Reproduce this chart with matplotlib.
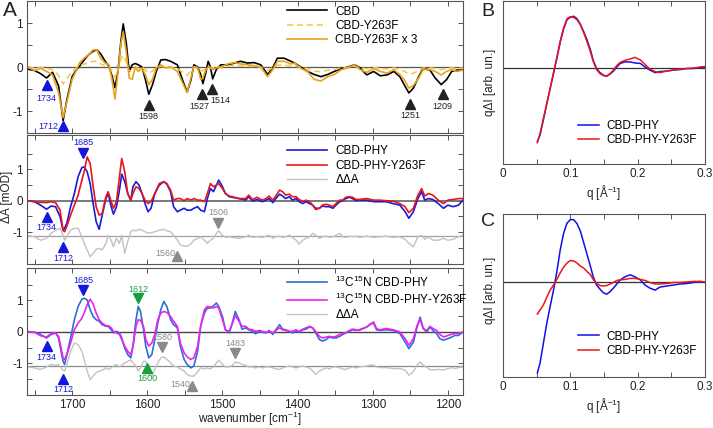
import numpy as np
import matplotlib
matplotlib.use('Agg')
import matplotlib.pyplot as plt
from matplotlib.ticker import MultipleLocator, FixedLocator

plt.rcParams['font.family'] = ['Liberation Sans', 'DejaVu Sans']
plt.rcParams['mathtext.default'] = 'regular'
plt.rcParams['axes.unicode_minus'] = False

# ---- panel A, top: CBD difference spectra ----
wn_top = [1759, 1750, 1742, 1734, 1726, 1718, 1712, 1707, 1700, 1695,
          1690, 1684, 1678, 1672, 1667, 1662, 1656, 1651, 1647, 1643,
          1639, 1635, 1632, 1628, 1624, 1620, 1616, 1612, 1607, 1602,
          1598, 1593, 1588, 1582, 1576, 1569, 1560, 1553, 1547, 1542,
          1538, 1533, 1529, 1526, 1522, 1519, 1516, 1513, 1508, 1502,
          1493, 1484, 1476, 1467, 1458, 1449, 1440, 1433, 1427, 1418,
          1409, 1404, 1396, 1387, 1378, 1369, 1360, 1351, 1342, 1333,
          1324, 1317, 1308, 1299, 1290, 1281, 1272, 1264, 1257, 1252,
          1246, 1239, 1233, 1224, 1217, 1209, 1202, 1195, 1188, 1180]
cbd = [-0.05, -0.08, -0.15, -0.25, -0.12, -0.43, -1.22, -0.75, -0.22, -0.08,
       0.02, 0.16, 0.28, 0.36, 0.39, 0.30, 0.13, 0.02, -0.20, -0.47,
       -0.10, 0.60, 0.98, 0.55, -0.10, 0.05, 0.08, 0.05, 0.00, -0.32,
       -0.62, -0.40, -0.10, 0.16, 0.17, 0.13, 0.05, -0.30, -0.57, -0.30,
       0.05, 0.00, -0.17, -0.38, -0.12, 0.13, 0.00, -0.27, -0.05, 0.05,
       0.05, 0.09, 0.13, 0.09, 0.10, 0.05, -0.17, -0.02, 0.20, 0.20,
       0.13, 0.09, 0.00, -0.10, -0.17, -0.22, -0.17, -0.10, -0.04, 0.00,
       0.05, -0.02, -0.18, -0.10, -0.20, -0.18, -0.10, -0.22, -0.44, -0.59,
       -0.48, -0.22, -0.03, -0.07, -0.25, -0.40, -0.29, -0.10, -0.07, -0.07]
cbd_y263f_x3 = [0.00, -0.08, -0.03, -0.10, -0.18, -0.58, -1.15, -0.80, -0.28, -0.10,
                0.10, 0.20, 0.28, 0.39, 0.39, 0.20, 0.09, 0.05, -0.28, -0.73,
                -0.13, 0.54, 0.80, 0.35, -0.25, -0.28, 0.00, -0.10, -0.02, -0.20,
                -0.40, -0.28, -0.02, 0.05, -0.02, 0.00, -0.10, -0.36, -0.58, -0.25,
                0.00, -0.02, -0.28, -0.25, -0.06, 0.00, -0.02, -0.06, -0.02, 0.00,
                0.07, 0.10, 0.07, 0.05, 0.03, 0.00, -0.22, -0.06, 0.13, 0.13,
                0.07, 0.09, -0.03, -0.10, -0.28, -0.32, -0.22, -0.17, -0.06, -0.02,
                0.05, -0.06, -0.12, -0.03, -0.10, -0.14, -0.06, -0.17, -0.32, -0.48,
                -0.42, -0.25, -0.06, -0.06, -0.10, -0.18, -0.10, -0.06, -0.10, -0.07]

# ---- panel A, middle: CBD-PHY ----
wn_mid = [1759, 1750, 1742, 1734, 1728, 1722, 1716, 1712, 1710, 1707,
          1702, 1697, 1692, 1687, 1684, 1680, 1676, 1672, 1668, 1664,
          1660, 1655, 1652, 1648, 1645, 1641, 1637, 1634, 1630, 1626,
          1622, 1619, 1615, 1611, 1607, 1603, 1599, 1595, 1590, 1584,
          1578, 1574, 1569, 1565, 1560, 1556, 1551, 1547, 1542, 1538,
          1533, 1529, 1524, 1520, 1516, 1512, 1508, 1505, 1500, 1496,
          1491, 1487, 1478, 1469, 1465, 1460, 1454, 1447, 1442, 1438,
          1433, 1429, 1424, 1420, 1416, 1411, 1407, 1402, 1398, 1393,
          1389, 1384, 1380, 1376, 1371, 1367, 1362, 1358, 1353, 1349,
          1344, 1340, 1336, 1331, 1327, 1322, 1318, 1308, 1299, 1291,
          1282, 1273, 1264, 1257, 1252, 1246, 1240, 1235, 1231, 1226,
          1220, 1213, 1206, 1200, 1193, 1186, 1180]
phy = [0.00, -0.03, -0.14, -0.27, -0.17, -0.19, -0.51, -0.94, -0.88, -0.72,
       -0.19, 0.23, 0.77, 1.06, 1.08, 0.93, 0.55, -0.09, -0.67, -0.91,
       -0.46, 0.07, 0.23, -0.19, -0.43, -0.19, 0.34, 0.85, 0.61, 0.23,
       0.02, 0.45, 0.61, 0.50, 0.23, -0.09, -0.35, -0.24, 0.23, 0.50,
       0.61, 0.53, 0.29, -0.19, -0.35, -0.30, -0.24, -0.30, -0.30, -0.24,
       -0.19, -0.30, -0.35, 0.07, 0.39, 0.29, 0.50, 0.66, 0.45, 0.23,
       0.13, 0.11, 0.07, 0.02, 0.13, -0.01, 0.04, -0.03, 0.02, 0.07,
       -0.06, 0.07, 0.21, 0.15, 0.07, 0.13, 0.02, 0.07, -0.03, -0.09,
       -0.03, -0.09, -0.14, -0.24, -0.24, -0.17, -0.19, -0.19, -0.24, -0.14,
       -0.03, 0.00, 0.07, 0.11, 0.07, 0.00, 0.02, 0.02, -0.03, -0.03,
       -0.03, -0.09, -0.14, -0.35, -0.56, -0.35, 0.07, 0.29, 0.02, 0.07,
       0.04, -0.09, -0.24, -0.14, -0.19, -0.14, 0.02]
phy_y263f = [0.00, -0.03, -0.05, -0.06, -0.03, -0.06, -0.30, -0.95, -0.99, -0.81,
             -0.46, -0.14, 0.18, 0.66, 0.93, 1.40, 1.19, 0.45, -0.19, -0.46,
             -0.40, 0.13, 0.29, -0.03, -0.24, -0.03, 0.77, 1.35, 0.93, 0.23,
             0.02, 0.23, 0.45, 0.39, 0.23, 0.02, -0.09, -0.03, 0.23, 0.55,
             0.61, 0.55, 0.34, 0.02, 0.07, 0.07, 0.00, 0.07, 0.02, 0.07,
             0.02, 0.02, -0.03, 0.23, 0.55, 0.45, 0.50, 0.55, 0.39, 0.23,
             0.15, 0.13, 0.07, 0.07, 0.18, 0.04, 0.11, 0.02, 0.07, 0.15,
             0.02, 0.15, 0.34, 0.29, 0.18, 0.21, 0.13, 0.13, 0.04, -0.03,
             0.02, -0.03, -0.14, -0.28, -0.24, -0.14, -0.11, -0.14, -0.19, -0.09,
             0.02, 0.02, 0.11, 0.13, 0.11, 0.04, 0.04, 0.07, 0.02, 0.02,
             0.00, -0.01, -0.09, -0.19, -0.38, -0.24, 0.18, 0.39, 0.15, 0.23,
             0.18, 0.02, -0.09, 0.02, 0.04, 0.07, 0.07]
dda_mid = [-1.12, -1.15, -1.26, -1.20, -1.04, -0.94, -0.88, -1.10, -1.26, -1.15,
           -0.94, -0.88, -0.88, -1.15, -1.36, -1.57, -1.79, -1.68, -1.55, -1.52,
           -1.57, -1.36, -1.10, -1.26, -1.47, -1.20, -1.36, -1.10, -1.68, -1.30,
           -0.99, -0.94, -0.96, -0.91, -0.94, -0.99, -1.04, -1.02, -0.99, -0.94,
           -0.91, -0.96, -0.99, -1.10, -1.26, -1.41, -1.45, -1.45, -1.38, -1.26,
           -1.20, -1.15, -1.26, -1.36, -1.26, -1.20, -1.04, -0.96, -1.10, -1.17,
           -1.15, -1.17, -1.20, -1.15, -1.10, -1.17, -1.15, -1.17, -1.13, -1.10,
           -1.20, -1.15, -1.13, -1.17, -1.15, -1.10, -1.17, -1.26, -1.38, -1.26,
           -1.20, -1.15, -1.04, -1.10, -1.20, -1.15, -1.13, -1.17, -1.15, -1.10,
           -1.04, -1.15, -1.17, -1.13, -1.15, -1.13, -1.17, -1.13, -1.17, -1.15,
           -1.13, -1.17, -1.15, -1.23, -1.36, -1.47, -1.15, -1.10, -1.23, -1.15,
           -1.26, -1.26, -1.20, -1.26, -1.23, -1.15, -1.10]
dda_mid_base = -1.12

# ---- panel A, bottom: 13C15N CBD-PHY ----
wn_bot = [1759, 1750, 1742, 1734, 1728, 1722, 1718, 1716, 1712, 1710,
          1707, 1702, 1697, 1692, 1687, 1684, 1680, 1676, 1672, 1668,
          1664, 1660, 1655, 1652, 1648, 1645, 1641, 1637, 1634, 1630,
          1626, 1622, 1619, 1615, 1612, 1609, 1605, 1602, 1598, 1594,
          1590, 1586, 1582, 1578, 1574, 1569, 1565, 1560, 1556, 1551,
          1547, 1542, 1538, 1533, 1529, 1524, 1520, 1516, 1512, 1508,
          1505, 1500, 1496, 1491, 1487, 1483, 1478, 1474, 1469, 1465,
          1460, 1456, 1451, 1447, 1442, 1438, 1433, 1429, 1424, 1420,
          1416, 1411, 1407, 1402, 1398, 1393, 1389, 1384, 1380, 1376,
          1371, 1367, 1362, 1358, 1353, 1349, 1344, 1340, 1336, 1331,
          1327, 1322, 1318, 1308, 1303, 1299, 1295, 1291, 1282, 1273,
          1264, 1257, 1252, 1246, 1241, 1237, 1233, 1228, 1224, 1220,
          1215, 1211, 1206, 1200, 1195, 1191, 1186, 1180]
iso_phy = [0.00, -0.01, -0.08, -0.19, -0.08, -0.03, -0.19, -0.45, -0.93, -1.03,
           -0.72, -0.19, 0.39, 0.81, 1.04, 1.07, 1.02, 0.71, 0.49, 0.39,
           0.34, 0.23, 0.18, 0.18, 0.07, -0.03, 0.02, -0.03, -0.19, -0.51,
           -0.72, -0.82, -0.45, 0.39, 0.81, 0.65, 0.07, -0.45, -0.82, -0.72,
           -0.24, 0.28, 0.71, 0.97, 0.81, 0.39, 0.23, 0.13, -0.45, -0.87,
           -1.03, -1.14, -1.08, -0.61, 0.18, 0.60, 0.76, 0.76, 0.83, 0.92,
           0.81, 0.49, 0.07, -0.03, 0.28, 0.65, 0.39, 0.09, 0.13, 0.07,
           0.02, -0.06, 0.02, -0.01, -0.03, 0.05, -0.08, 0.07, 0.23, 0.09,
           0.07, 0.02, -0.03, 0.02, -0.01, 0.07, 0.09, 0.16, 0.13, -0.03,
           -0.24, -0.29, -0.24, -0.16, -0.19, -0.19, -0.14, -0.08, -0.03, 0.02,
           0.07, 0.05, 0.07, 0.16, 0.26, 0.28, 0.07, 0.05, 0.07, 0.05,
           -0.05, -0.32, -0.53, -0.32, 0.16, 0.47, 0.11, 0.00, 0.16, 0.05,
           -0.05, -0.21, -0.26, -0.21, -0.16, -0.11, -0.11, 0.00]
iso_phy_y263f = [0.02, -0.01, -0.12, -0.16, -0.05, -0.03, -0.14, -0.35, -0.82, -0.87,
                 -0.72, -0.35, 0.07, 0.28, 0.44, 0.60, 0.86, 1.04, 0.89, 0.60,
                 0.39, 0.28, 0.20, 0.20, 0.13, 0.02, -0.03, -0.08, -0.24, -0.45,
                 -0.61, -0.72, -0.45, 0.18, 0.39, 0.37, 0.18, -0.24, -0.45, -0.35,
                 -0.08, 0.39, 0.60, 0.65, 0.62, 0.49, 0.34, 0.18, -0.35, -0.66,
                 -0.79, -0.87, -0.82, -0.45, 0.18, 0.71, 0.81, 0.79, 0.76, 0.81,
                 0.76, 0.39, 0.07, 0.02, 0.26, 0.52, 0.34, 0.18, 0.18, 0.09,
                 0.07, 0.02, 0.05, 0.02, -0.01, 0.02, -0.03, 0.05, 0.13, 0.07,
                 0.05, 0.02, 0.02, 0.07, 0.02, 0.09, 0.13, 0.18, 0.13, 0.02,
                 -0.14, -0.19, -0.16, -0.14, -0.16, -0.14, -0.08, -0.05, -0.03, 0.05,
                 0.09, 0.07, 0.05, 0.16, 0.24, 0.32, 0.11, 0.07, 0.11, 0.07,
                 0.00, -0.21, -0.42, -0.21, 0.21, 0.39, 0.11, 0.05, 0.18, 0.11,
                 0.05, -0.07, -0.16, -0.11, -0.07, -0.05, -0.05, 0.00]
dda_bot = [-1.11, -1.14, -1.19, -1.11, -1.03, -1.06, -1.03, -1.11, -1.21, -1.24,
           -1.03, -0.61, -0.35, -0.40, -0.61, -0.87, -1.24, -1.51, -1.40, -1.29,
           -1.24, -1.21, -1.14, -1.19, -1.14, -1.08, -1.03, -1.11, -1.06, -0.98,
           -0.93, -0.89, -0.98, -1.08, -1.24, -1.14, -0.93, -0.93, -1.35, -1.40,
           -1.19, -0.98, -0.82, -0.79, -0.87, -0.98, -1.08, -1.11, -1.17, -1.24,
           -1.35, -1.40, -1.40, -1.27, -1.14, -1.17, -1.14, -1.17, -1.11, -0.98,
           -0.89, -1.03, -1.11, -1.11, -1.06, -0.96, -0.98, -1.03, -1.06, -1.11,
           -1.11, -1.14, -1.11, -1.14, -1.11, -1.11, -1.14, -1.17, -1.19, -1.14,
           -1.11, -1.08, -1.11, -1.14, -1.11, -1.08, -1.11, -1.14, -1.24, -1.35,
           -1.24, -1.19, -1.14, -1.17, -1.11, -1.11, -1.14, -1.17, -1.19, -1.14,
           -1.11, -1.14, -1.11, -1.08, -1.05, -1.05, -1.11, -1.13, -1.13, -1.16,
           -1.16, -1.21, -1.37, -1.26, -1.05, -0.95, -1.05, -1.13, -1.19, -1.21,
           -1.19, -1.19, -1.21, -1.16, -1.13, -1.16, -1.13, -1.11]
dda_bot_base = -1.07

# ---- panels B and C: SAXS difference curves ----
q = [0.051, 0.055, 0.060, 0.065, 0.070, 0.075, 0.080, 0.085, 0.090, 0.095,
     0.100, 0.105, 0.110, 0.115, 0.120, 0.125, 0.130, 0.134, 0.139, 0.144,
     0.149, 0.154, 0.159, 0.164, 0.169, 0.174, 0.181, 0.189, 0.196, 0.204,
     0.211, 0.218, 0.226, 0.233, 0.243, 0.253, 0.263, 0.273, 0.283, 0.293,
     0.300]
b_phy = [-1.46, -1.33, -1.03, -0.71, -0.41, -0.12, 0.18, 0.50, 0.76, 0.94,
         0.99, 1.01, 0.96, 0.85, 0.70, 0.54, 0.34, 0.14, -0.02, -0.10,
         -0.15, -0.17, -0.13, -0.07, 0.01, 0.08, 0.11, 0.11, 0.09, 0.08,
         0.01, -0.05, -0.10, -0.08, -0.07, -0.05, -0.04, -0.02, -0.02, 0.00,
         0.01]
b_y263f = [-1.48, -1.30, -1.00, -0.72, -0.42, -0.10, 0.20, 0.52, 0.78, 0.96,
           1.00, 0.99, 0.94, 0.84, 0.68, 0.50, 0.30, 0.12, -0.04, -0.12,
           -0.16, -0.17, -0.12, -0.05, 0.04, 0.10, 0.14, 0.17, 0.20, 0.15,
           0.06, -0.03, -0.08, -0.10, -0.07, -0.05, -0.03, -0.02, -0.01, 0.01,
           0.02]
c_phy = [-1.78, -1.59, -1.20, -0.81, -0.48, -0.16, 0.20, 0.63, 0.95, 1.15,
         1.22, 1.22, 1.14, 0.99, 0.76, 0.53, 0.30, 0.10, -0.06, -0.14,
         -0.21, -0.24, -0.19, -0.12, -0.04, 0.04, 0.10, 0.14, 0.10, 0.04,
         -0.06, -0.12, -0.16, -0.10, -0.08, -0.06, -0.04, -0.03, -0.01, 0.01,
         -0.01]
c_y263f = [-0.63, -0.55, -0.45, -0.30, -0.16, -0.06, 0.05, 0.18, 0.29, 0.37,
           0.42, 0.41, 0.37, 0.31, 0.27, 0.20, 0.14, 0.05, -0.03, -0.07,
           -0.08, -0.07, -0.04, -0.01, 0.03, 0.04, 0.05, 0.07, 0.07, 0.05,
           0.03, -0.01, -0.04, -0.04, -0.03, -0.01, -0.01, 0.00, 0.01, 0.01,
           0.00]

W, H = 713, 428
fig = plt.figure(figsize=(W / 100, H / 100), dpi=100)


def add_ax(x0, y0, x1, y1):
    # axes placed by pixel box (top-left origin)
    return fig.add_axes([x0 / W, 1 - y1 / H, (x1 - x0) / W, (y1 - y0) / H])


def style_ir(ax, ylim, xlabels=False):
    ax.set_xlim(1760, 1180)
    ax.set_ylim(*ylim)
    ax.xaxis.set_major_locator(MultipleLocator(100))
    ax.xaxis.set_minor_locator(MultipleLocator(50))
    ax.yaxis.set_major_locator(FixedLocator([-1, 0, 1]))
    ax.yaxis.set_minor_locator(FixedLocator([-1.5, -0.5, 0.5, 1.5]))
    ax.tick_params(which='both', direction='in', top=True, right=True,
                   length=3.5, width=0.7, color='#555555',
                   labelcolor='#222222', labelsize=8.5, pad=3)
    ax.tick_params(labelbottom=xlabels)
    for s in ax.spines.values():
        s.set_color('#555555')
        s.set_linewidth(0.8)


def mark(ax, x, y, up, color, label, tx, ty, ha='center'):
    ax.plot([x], [y], marker='^' if up else 'v', color=color,
            markersize=6.5, linestyle='none')
    ax.text(tx, ty, label, color=color, fontsize=6.5, ha=ha, va='center')


BLUE = '#1515e0'
DARK = '#222222'
GRAY = '#8a8a8a'
GREEN = '#14a03c'

# top panel
ax1 = add_ax(27, 1, 463, 133)
style_ir(ax1, (-1.5, 1.5))
ax1.axhline(0, color='#555555', lw=0.9, zorder=1)
ax1.plot(wn_top, cbd, color='black', lw=1.2, label='CBD')
ax1.plot(wn_top, np.array(cbd_y263f_x3) / 3, color='#f7c640', lw=1.1,
         linestyle=(0, (4, 2.5)), label='CBD-Y263F')
ax1.plot(wn_top, cbd_y263f_x3, color='#e8a21c', lw=1.2, label='CBD-Y263F x 3')
ax1.legend(loc='upper left', bbox_to_anchor=(0.596, 0.965), frameon=False,
           fontsize=8.5, handlelength=3.4, handletextpad=0.7, labelspacing=0.2,
           borderpad=0, borderaxespad=0)
mark(ax1, 1734, -0.42, True, BLUE, '1734', 1734, -0.71)
mark(ax1, 1712, -1.35, True, BLUE, '1712', 1731, -1.35)
mark(ax1, 1598, -0.87, True, DARK, '1598', 1598, -1.12)
mark(ax1, 1527, -0.62, True, DARK, '1527', 1531, -0.90)
mark(ax1, 1514, -0.49, True, DARK, '1514', 1503, -0.77)
mark(ax1, 1250, -0.85, True, DARK, '1251', 1250, -1.10)
mark(ax1, 1207, -0.62, True, DARK, '1209', 1207, -0.90)

# middle panel
ax2 = add_ax(27, 135, 463, 264)
style_ir(ax2, (-2.02, 2.1))
ax2.axhline(0, color='#7a7a7a', lw=1.4, zorder=1)
ax2.axhline(dda_mid_base, color='#a0a0a0', lw=0.9, zorder=1)
ax2.plot(wn_mid, phy, color='#1a1ad8', lw=1.2, label='CBD-PHY')
ax2.plot(wn_mid, phy_y263f, color='#e8161c', lw=1.2, label='CBD-PHY-Y263F')
ax2.plot(wn_mid, dda_mid, color='#c2c2c2', lw=1.0, label='ΔΔA')
ax2.legend(loc='upper left', bbox_to_anchor=(0.596, 0.92), frameon=False,
           fontsize=8.5, handlelength=3.4, handletextpad=0.7, labelspacing=0.2,
           borderpad=0, borderaxespad=0)
mark(ax2, 1685, 1.53, False, BLUE, '1685', 1685, 1.85)
mark(ax2, 1734, -0.51, True, BLUE, '1734', 1734, -0.85)
mark(ax2, 1712, -1.49, True, BLUE, '1712', 1712, -1.84)
mark(ax2, 1506, -0.72, False, GRAY, '1506', 1506, -0.37)
mark(ax2, 1560, -1.76, True, GRAY, '1560', 1576, -1.70)

# bottom panel
ax3 = add_ax(27, 268, 463, 395)
style_ir(ax3, (-2.0, 2.03), xlabels=True)
ax3.axhline(0, color='#444444', lw=1.0, zorder=1)
ax3.axhline(dda_bot_base, color='#8c8c8c', lw=0.9, zorder=1)
ax3.plot(wn_bot, iso_phy, color='#2a6fd6', lw=1.2,
         label='$^{13}$C$^{15}$N CBD-PHY')
ax3.plot(wn_bot, iso_phy_y263f, color='#ee22ee', lw=1.2,
         label='$^{13}$C$^{15}$N CBD-PHY-Y263F')
ax3.plot(wn_bot, dda_bot, color='#c2c2c2', lw=1.0, label='ΔΔA')
ax3.legend(loc='upper left', bbox_to_anchor=(0.596, 0.95), frameon=False,
           fontsize=8.5, handlelength=3.4, handletextpad=0.7, labelspacing=0.2,
           borderpad=0, borderaxespad=0)
mark(ax3, 1685, 1.34, False, BLUE, '1685', 1685, 1.62)
mark(ax3, 1612, 1.07, False, GREEN, '1612', 1612, 1.36)
mark(ax3, 1734, -0.45, True, BLUE, '1734', 1734, -0.80)
mark(ax3, 1712, -1.48, True, BLUE, '1712', 1712, -1.82)
mark(ax3, 1600, -1.14, True, GREEN, '1600', 1600, -1.47)
mark(ax3, 1580, -0.48, False, GRAY, '1580', 1580, -0.17)
mark(ax3, 1483, -0.68, False, GRAY, '1483', 1483, -0.38)
mark(ax3, 1540, -1.72, True, GRAY, '1540', 1556, -1.66)

fig.text(7 / W, 1 - 197 / H, 'ΔA [mOD]', rotation=90, ha='center', va='center',
         fontsize=8.5, color='#222222')
fig.text(250 / W, 1 - 419 / H, 'wavenumber [cm$^{-1}$]', ha='center', va='center',
         fontsize=8.5, color='#222222')
fig.text(10 / W, 1 - 10 / H, 'A', ha='center', va='center', fontsize=15,
         color='#222222')


def style_q(ax, ylim):
    ax.set_xlim(0, 0.3)
    ax.set_ylim(*ylim)
    ax.xaxis.set_major_locator(MultipleLocator(0.1))
    ax.xaxis.set_minor_locator(MultipleLocator(0.05))
    ax.set_xticks([0, 0.1, 0.2, 0.3])
    ax.set_xticklabels(['0', '0.1', '0.2', '0.3'])
    ax.set_yticks([])
    ax.tick_params(which='both', direction='in', top=True, length=3.5,
                   width=0.7, color='#555555', labelcolor='#222222',
                   labelsize=8.5, pad=3)
    for s in ax.spines.values():
        s.set_color('#555555')
        s.set_linewidth(0.8)
    ax.axhline(0, color='#333333', lw=0.9, zorder=1)
    ax.set_xlabel('q [Å$^{-1}$]', fontsize=8.5, color='#222222', labelpad=2)


axB = add_ax(503, 1, 705, 164)
style_q(axB, (-1.90, 1.31))
axB.plot(q, b_phy, color='#1010e6', lw=1.1, label='CBD-PHY')
axB.plot(q, b_y263f, color='#ee1515', lw=1.1, label='CBD-PHY-Y263F')
axB.legend(loc='upper left', bbox_to_anchor=(0.37, 0.27), frameon=False,
           fontsize=8.5, handlelength=1.8, handletextpad=0.6, labelspacing=0.2,
           borderpad=0, borderaxespad=0)

axC = add_ax(503, 214, 705, 377)
style_q(axC, (-1.86, 1.33))
axC.plot(q, c_phy, color='#1010e6', lw=1.1, label='CBD-PHY')
axC.plot(q, c_y263f, color='#ee1515', lw=1.1, label='CBD-PHY-Y263F')
axC.legend(loc='upper left', bbox_to_anchor=(0.37, 0.285), frameon=False,
           fontsize=8.5, handlelength=1.8, handletextpad=0.6, labelspacing=0.2,
           borderpad=0, borderaxespad=0)

for yc in (82, 290):
    fig.text(490 / W, 1 - yc / H, 'qΔI [arb. un.]', rotation=90, ha='center',
             va='center', fontsize=8.5, color='#222222')
fig.text(488 / W, 1 - 11 / H, 'B', ha='center', va='center', fontsize=14,
         color='#222222')
fig.text(488 / W, 1 - 221 / H, 'C', ha='center', va='center', fontsize=14,
         color='#222222')

fig.savefig('out.png', dpi=100)
